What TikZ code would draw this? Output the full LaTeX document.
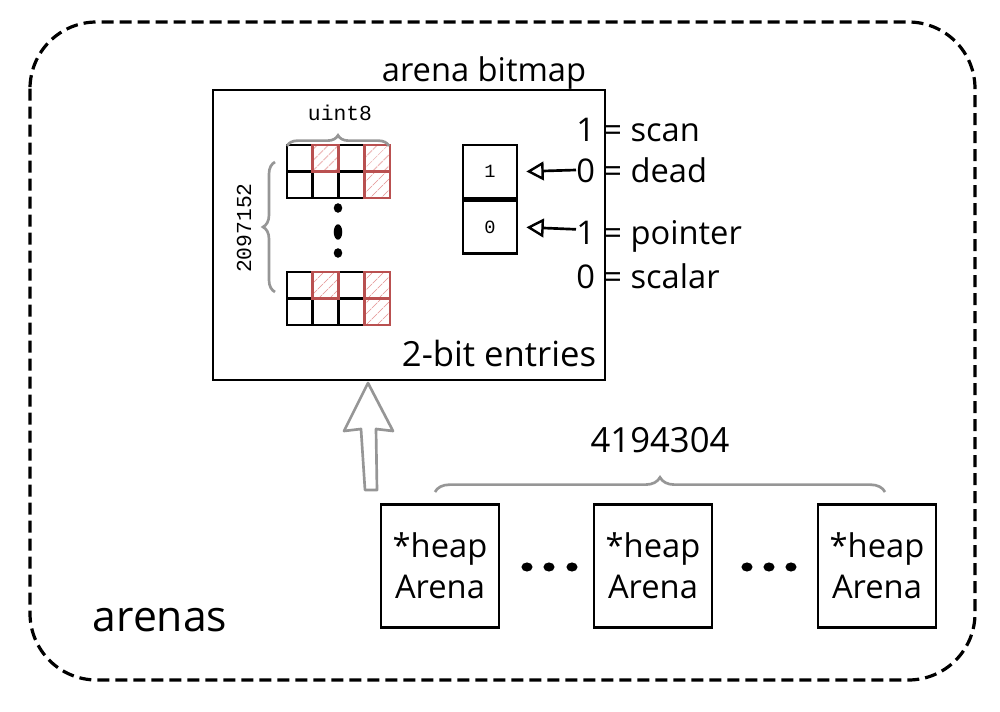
\documentclass[tikz,border=0pt]{standalone}
\usepackage{fontspec}
\setmainfont{Open Sans}
\setmonofont{Liberation Mono}
\usetikzlibrary{arrows.meta,decorations.pathreplacing,patterns.meta,calc}
\definecolor{hred}{RGB}{185,80,80}
\definecolor{hlight}{RGB}{232,165,165}
\definecolor{braceg}{RGB}{150,150,150}
\tikzset{
  lbl/.style={font=\fontsize{24.5}{30}\selectfont, inner sep=0pt},
  mono/.style={font=\ttfamily\fontsize{16}{18}\selectfont, inner sep=0pt},
  box/.style={draw, line width=2.1pt, inner sep=0pt},
  heapbox/.style={box, minimum width=88.5pt, minimum height=92pt, align=center, font=\fontsize{24.5}{31}\selectfont},
  cellg/.style={line width=2.1pt},
  redcell/.style={draw=hred, line width=1.9pt, pattern={Lines[angle=45,distance=6.5pt,line width=0.8pt]}, pattern color=hlight},
  gbrace/.style={draw=braceg, line width=2pt, decorate, decoration={brace, amplitude=#1}},
  ptr/.style={line width=2pt, -{Triangle[open, length=13pt, width=14pt, line width=1.8pt]}},
  dot/.style={fill=black, draw=none}
}
\begin{document}
\begin{tikzpicture}[x=0.75pt, y=-0.75pt]
\useasboundingbox (0,0) rectangle (1000,712);
% outer arenas region
\draw[line width=2.4pt, dash pattern=on 9pt off 4.5pt, rounded corners=50pt] (30,22) rectangle (975,680);
\node[font=\fontsize{32}{36}\selectfont, inner sep=0pt] (arenas) at (160,620) {arenas};

% bitmap box
\node[box, minimum width=294pt, minimum height=217.5pt] (bm) at (409,235) {};
\node[lbl] (bmt) at (484,73) {arena bitmap};
\node[lbl, font=\fontsize{26}{30}\selectfont] (entries) at (499,354) {2-bit entries};

% grids
\foreach \gy in {145,272} {
  \foreach \c in {0,1,2,3} {
    \foreach \r in {0,1} {
      \draw[cellg] (287+\c*25.75, \gy+\r*26.5) rectangle ++(25.75,26.5);
    }
  }
  \draw[redcell] (312.75,\gy) rectangle ++(25.75,26.5);
  \draw[redcell] (364.25,\gy) rectangle ++(25.75,26.5);
  \draw[redcell] (364.25,\gy+26.5) rectangle ++(25.75,26.5);
}
% vertical dots
\fill (338,208) ellipse (3.2pt and 3.6pt);
\fill (338,232) ellipse (3.2pt and 5.8pt);
\fill (338,253) ellipse (3.2pt and 3.6pt);

% uint8 brace
\draw[gbrace=8pt] (287,146) -- (389,146);
\node[mono] (u8) at (340,113) {uint8};
% 2097152 brace
\draw[gbrace=9pt] (275,292) -- (275,162);
\node[mono, rotate=90] (n2m) at (244,228) {2097152};

% 2-bit cell
\node[box, minimum width=40.5pt, minimum height=39.75pt, font=\ttfamily\fontsize{14}{16}\selectfont] (c1) at (490,171.5) {1};
\node[box, minimum width=40.5pt, minimum height=39.75pt, font=\ttfamily\fontsize{14}{16}\selectfont, anchor=north] (c0) at (c1.south) {0};

\node[lbl, anchor=west] (scan) at (576,130) {1 = scan};
\node[lbl, anchor=west] (dead) at (576,170) {0 = dead};
\node[lbl, anchor=west] (pointer) at (576,236) {1 = pointer};
\node[lbl, anchor=west] (scalar) at (576,276) {0 = scalar};
\draw[ptr] (dead.west) -- ([xshift=6pt]c1.east);
\draw[ptr] ([yshift=5pt]pointer.west) -- ([xshift=6pt]c0.east);

% heap arenas
\node[heapbox] (h1) at (440,566) {*heap\\Arena};
\node[heapbox] (h2) at (653,566) {*heap\\Arena};
\node[heapbox] (h3) at (877,566) {*heap\\Arena};
\foreach \x in {527,549,572,747,769,791} { \fill (\x,567) ellipse (4.2pt and 3.4pt); }

% 4194304 brace
\draw[gbrace=11pt] (435,492) -- (885,492);
\node[lbl, font=\fontsize{26}{30}\selectfont] (count) at (660,440) {4194304};

% hollow arrow from heap arena to bitmap
\coordinate (tip) at (368,383);
\draw[braceg, line width=2pt, line join=round]
  (tip) -- (344,431) -- (361,429) -- (365,490) -- (377,490) -- (376,429) -- (393,431) -- cycle;
\end{tikzpicture}
\end{document}
